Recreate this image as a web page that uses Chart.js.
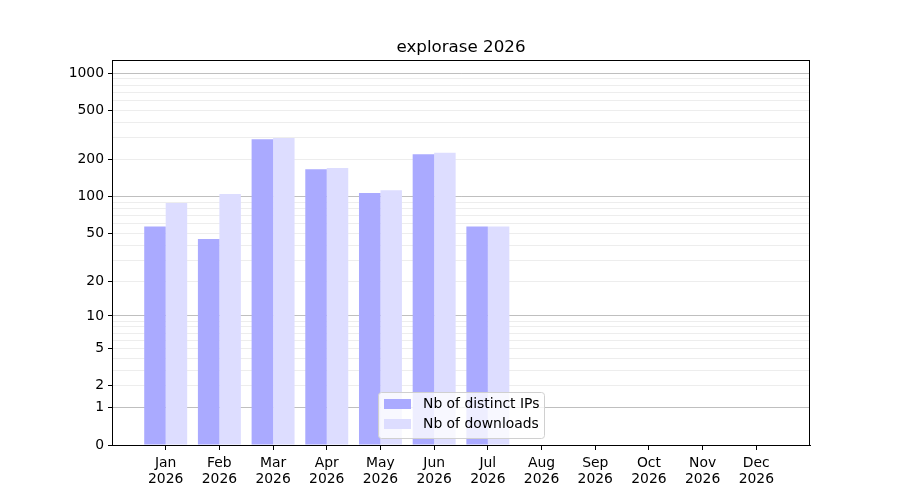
<!DOCTYPE html>
<html>
<head>
<meta charset="utf-8">
<title>explorase 2026</title>
<script src="https://cdn.jsdelivr.net/npm/chart.js@4/dist/chart.umd.min.js"></script>
<style>
  html, body { margin: 0; padding: 0; background: #fff; }
  canvas { display: block; }
</style>
</head>
<body>
<canvas id="chart" width="900" height="500"></canvas>
<script>
// Monthly stats
const monthNames = ["Jan", "Feb", "Mar", "Apr", "May", "Jun", "Jul", "Aug", "Sep", "Oct", "Nov", "Dec"];
const yearLabel = "2026";
const distinctIps = [57, 45, 293, 167, 107, 221, 57, 0, 0, 0, 0, 0];
const downloads = [89, 105, 300, 171, 113, 227, 57, 0, 0, 0, 0, 0];

// y axis ticks (log(1+x) scale)
const yTickValues = [0, 1, 2, 3, 4, 5, 6, 7, 8, 9, 10, 20, 30, 40, 50, 60, 70, 80, 90,
  100, 200, 300, 400, 500, 600, 700, 800, 900, 1000];
const yTickLabels = [0, 1, 2, 5, 10, 20, 50, 100, 200, 500, 1000];
const yMajorGrid = [1, 10, 100, 1000];

const FONT = "'DejaVu Sans', sans-serif";

// Custom scale: pixel position follows log10(1 + value)
class Log1pScale extends Chart.LinearScale {
  buildTicks() {
    return yTickValues.map((v) => ({ value: v }));
  }
  configure() {
    super.configure();
    this._tStart = Math.log10(1 + this.min);
    this._tRange = Math.log10(1 + this.max) - this._tStart;
  }
  getPixelForValue(value) {
    return this.getPixelForDecimal((Math.log10(1 + value) - this._tStart) / this._tRange);
  }
  getValueForPixel(pixel) {
    return Math.pow(10, this._tStart + this.getDecimalForPixel(pixel) * this._tRange) - 1;
  }
}
Log1pScale.id = "log1p";
Log1pScale.defaults = {};
Chart.register(Log1pScale);

// Frame, title and legend drawn like matplotlib
const decorPlugin = {
  id: "decor",
  afterDraw(chart) {
    const ctx = chart.ctx;
    const a = chart.chartArea;
    ctx.save();

    // full box
    ctx.strokeStyle = "#000";
    ctx.lineWidth = 1;
    ctx.strokeRect(Math.round(a.left) + 0.5, Math.round(a.top) + 0.5,
      Math.round(a.right - a.left) - 1, Math.round(a.bottom - a.top));

    // title
    ctx.fillStyle = "#000";
    ctx.font = "16.7px " + FONT;
    ctx.textAlign = "center";
    ctx.textBaseline = "alphabetic";
    ctx.fillText("explorase 2026", (a.left + a.right) / 2, 52);

    // legend
    const bx = 378, by = 392, bw = 166, bh = 46;
    ctx.beginPath();
    ctx.roundRect(bx + 0.5, by + 0.5, bw, bh, 3);
    ctx.fillStyle = "rgba(255,255,255,0.8)";
    ctx.fill();
    ctx.strokeStyle = "#d0d0d0";
    ctx.stroke();

    ctx.font = "13.9px " + FONT;
    ctx.textAlign = "left";
    ctx.textBaseline = "middle";
    chart.data.datasets.forEach((ds, i) => {
      const y = by + 7 + i * 20;
      ctx.fillStyle = ds.backgroundColor;
      ctx.fillRect(bx + 6, y, 27, 10);
      ctx.fillStyle = "#000";
      ctx.fillText(ds.label, bx + 45, y + 5);
    });
    ctx.restore();
  },
};

function toPoints(values) {
  return values.map((v, i) => ({ x: i, y: v }));
}

new Chart(document.getElementById("chart"), {
  type: "bar",
  data: {
    datasets: [
      {
        label: "Nb of distinct IPs",
        data: toPoints(distinctIps),
        backgroundColor: "#aaaaff",
        borderWidth: 0,
        barPercentage: 1.0,
        categoryPercentage: 0.8,
      },
      {
        label: "Nb of downloads",
        data: toPoints(downloads),
        backgroundColor: "#ddddff",
        borderWidth: 0,
        barPercentage: 1.0,
        categoryPercentage: 0.8,
      },
    ],
  },
  options: {
    responsive: false,
    animation: false,
    devicePixelRatio: 1,
    layout: {
      padding: { top: 60, right: 90, left: 0, bottom: 0 },
    },
    plugins: {
      legend: { display: false },
      title: { display: false },
      tooltip: { enabled: false },
    },
    scales: {
      x: {
        type: "linear",
        min: -1,
        max: 12,
        offset: false,
        afterBuildTicks: (scale) => {
          scale.ticks = monthNames.map((m, i) => ({ value: i }));
        },
        afterFit: (scale) => {
          scale.height = 55;
        },
        grid: {
          offset: false,
          drawOnChartArea: false,
          tickLength: 5,
          tickColor: "#000",
        },
        border: { color: "#000" },
        ticks: {
          autoSkip: false,
          maxRotation: 0,
          padding: 5,
          color: "#000",
          font: { family: FONT, size: 13.9, lineHeight: 1.15 },
          callback: (value) => [monthNames[value], yearLabel],
        },
      },
      y: {
        type: "log1p",
        min: 0,
        max: 1280,
        z: 1,
        afterFit: (scale) => {
          scale.width = 112;
        },
        grid: {
          tickLength: 4,
          color: (c) => {
            const v = c.tick ? c.tick.value : 0;
            if (v === 0) return "rgba(0,0,0,0)";
            return yMajorGrid.includes(v) ? "rgba(0,0,0,0.25)" : "rgba(0,0,0,0.07)";
          },
          tickColor: (c) => {
            const v = c.tick ? c.tick.value : 0;
            return yTickLabels.includes(v) ? "#000" : "rgba(0,0,0,0)";
          },
        },
        border: { color: "#000" },
        ticks: {
          autoSkip: false,
          padding: 4,
          color: "#000",
          font: { family: FONT, size: 13.9 },
          callback: (value) => (yTickLabels.includes(value) ? String(value) : ""),
        },
      },
    },
  },
  plugins: [decorPlugin],
});
</script>
</body>
</html>
